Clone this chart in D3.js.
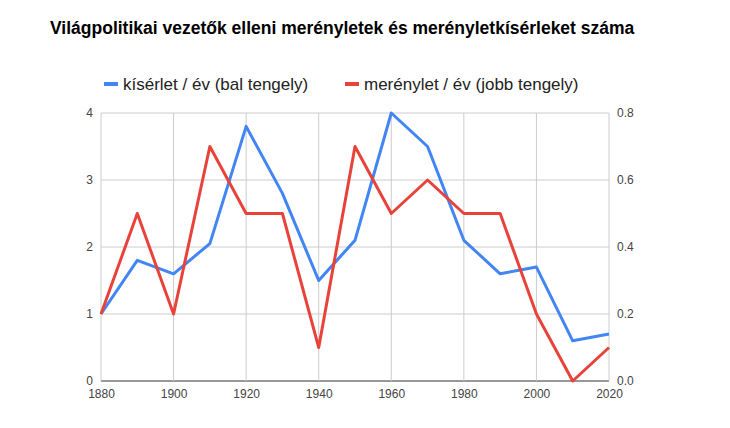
<!DOCTYPE html>
<html><head><meta charset="utf-8">
<script src="https://cdn.jsdelivr.net/npm/d3@7"></script>
<style>body{margin:0;background:#fff;font-family:Arial,"Liberation Sans",sans-serif}</style>
</head><body><svg id="c" width="730" height="428"></svg>
<script>
const years=[1880,1890,1900,1910,1920,1930,1940,1950,1960,1970,1980,1990,2000,2010,2020];
const attempts=[1.0,1.8,1.6,2.05,3.8,2.8,1.5,2.1,4.0,3.5,2.1,1.6,1.7,0.6,0.7];
const assassinations=[0.2,0.5,0.2,0.7,0.5,0.5,0.1,0.7,0.5,0.6,0.5,0.5,0.2,0,0.1];
const xTicks=[1880,1900,1920,1940,1960,1980,2000,2020];
const leftTicks=[0,1,2,3,4];
const rightTicks=[0,0.2,0.4,0.6,0.8];
const title="Világpolitikai vezetők elleni merényletek és merényletkísérleket száma";
const seriesNames=["kísérlet / év (bal tengely)","merénylet / év (jobb tengely)"];
const colors=["#4285F4","#E8433A"];

const svg=d3.select("#c");
const x=d3.scaleLinear().domain([1880,2020]).range([101,609]);
const yL=d3.scaleLinear().domain([0,4]).range([381,113]);
const yR=d3.scaleLinear().domain([0,0.8]).range([381,113]);

svg.append("text").attr("x",50).attr("y",34).attr("font-size",17.5).attr("font-weight","bold").attr("fill","#000").text(title);

const g=svg.append("g");
leftTicks.forEach(t=>g.append("line").attr("x1",101).attr("x2",609).attr("y1",yL(t)).attr("y2",yL(t)).attr("stroke",t===0?"#333":"#ccc"));
xTicks.forEach(t=>g.append("line").attr("x1",x(t)).attr("x2",x(t)).attr("y1",113).attr("y2",381).attr("stroke","#ccc"));

svg.append("g").attr("transform","translate(101,0)").call(d3.axisLeft(yL).tickValues(leftTicks).tickSize(0).tickPadding(8).tickFormat(d3.format("d")))
 .call(a=>{a.select(".domain").remove();a.selectAll("text").attr("fill","#444").attr("font-size",12).attr("font-family","Arial,'Liberation Sans'");});
svg.append("g").attr("transform","translate(609,0)").call(d3.axisRight(yR).tickValues(rightTicks).tickSize(0).tickPadding(8).tickFormat(d3.format(".1f")))
 .call(a=>{a.select(".domain").remove();a.selectAll("text").attr("fill","#444").attr("font-size",12).attr("font-family","Arial,'Liberation Sans'");});
svg.append("g").attr("transform","translate(0,381)").call(d3.axisBottom(x).tickValues(xTicks).tickSize(0).tickPadding(8).tickFormat(d3.format("d")))
 .call(a=>{a.select(".domain").remove();a.selectAll("text").attr("fill","#444").attr("font-size",12).attr("font-family","Arial,'Liberation Sans'");});

const lineL=d3.line().x((d,i)=>x(years[i])).y(d=>yL(d));
const lineR=d3.line().x((d,i)=>x(years[i])).y(d=>yR(d));
svg.append("path").attr("d",lineL(attempts)).attr("fill","none").attr("stroke",colors[0]).attr("stroke-width",3).attr("stroke-linejoin","round");
svg.append("path").attr("d",lineR(assassinations)).attr("fill","none").attr("stroke",colors[1]).attr("stroke-width",3).attr("stroke-linejoin","round");

const leg=[{x:104,t:seriesNames[0],c:colors[0]},{x:345,t:seriesNames[1],c:colors[1]}];
leg.forEach(l=>{
 svg.append("line").attr("x1",l.x).attr("x2",l.x+14).attr("y1",84).attr("y2",84).attr("stroke",l.c).attr("stroke-width",4);
 svg.append("text").attr("x",l.x+19).attr("y",90).attr("font-size",17).attr("fill","#222").text(l.t);
});
</script></body></html>
